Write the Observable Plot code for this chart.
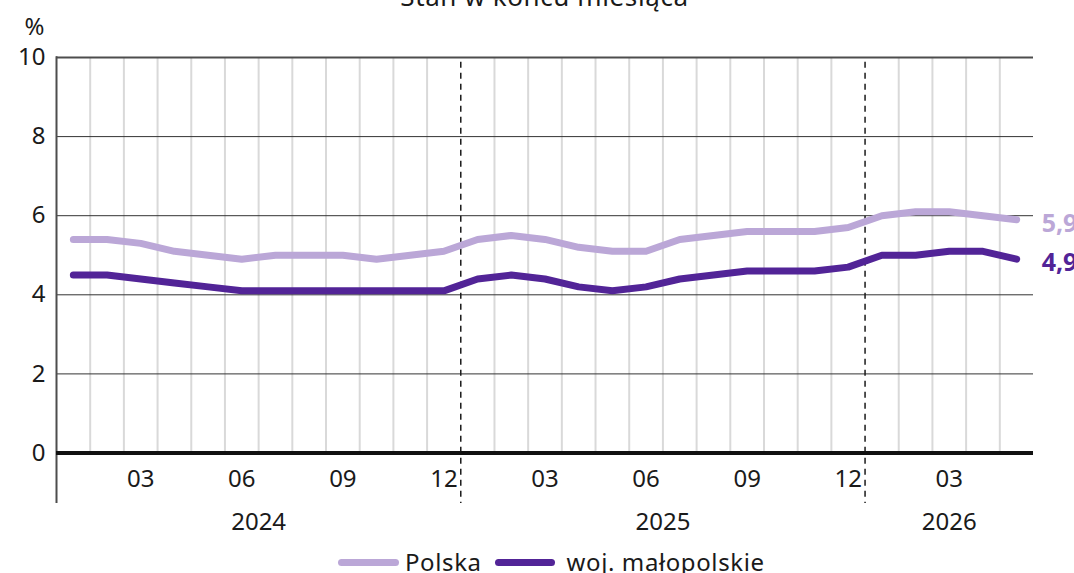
<!DOCTYPE html>
<html>
<head>
<meta charset="utf-8">
<script src="https://cdn.jsdelivr.net/npm/d3@7"></script>
<script src="https://cdn.jsdelivr.net/npm/@observablehq/plot@0.6"></script>
<style>
  html, body { margin: 0; padding: 0; background: #fff; overflow: hidden; }
  body { font-family: "Noto Sans", sans-serif; color: #1a1a1a; }
  #wrap { position: relative; width: 1074px; height: 573px; overflow: hidden; }
  #title { position: absolute; top: -19px; left: 56px; width: 977px; text-align: center; font-size: 26px; letter-spacing: 0.6px; line-height: 30px; color: #1a1a1a; z-index: 2; }
  #legend { position: absolute; top: 547px; left: 338px; display: flex; align-items: center; font-size: 24px; letter-spacing: 0.6px; line-height: 30px; color: #1a1a1a; white-space: nowrap; z-index: 2; }
  .sw { display: inline-block; width: 61px; height: 7px; border-radius: 4px; margin-right: 6px; }
  .item { display: flex; align-items: center; margin-right: 13px; }
  .item + .item .sw { width: 60px; margin-right: 12px; }
  svg { position: absolute; top: 0; left: 0; }
</style>
</head>
<body>
<div id="wrap">
  <div id="title">Stan w końcu miesiąca</div>
  <div id="chart"></div>
  <div id="legend"></div>
</div>
<script>
// ---- data ----
const months = [
  "2024-01","2024-02","2024-03","2024-04","2024-05","2024-06","2024-07","2024-08","2024-09","2024-10","2024-11","2024-12",
  "2025-01","2025-02","2025-03","2025-04","2025-05","2025-06","2025-07","2025-08","2025-09","2025-10","2025-11","2025-12",
  "2026-01","2026-02","2026-03","2026-04","2026-05"
];
const polska = [
  5.4, 5.4, 5.3, 5.1, 5.0, 4.9, 5.0, 5.0, 5.0, 4.9, 5.0, 5.1,
  5.4, 5.5, 5.4, 5.2, 5.1, 5.1, 5.4, 5.5, 5.6, 5.6, 5.6, 5.7,
  6.0, 6.1, 6.1, 6.0, 5.9
];
const malopolskie = [
  4.5, 4.5, 4.4, 4.3, 4.2, 4.1, 4.1, 4.1, 4.1, 4.1, 4.1, 4.1,
  4.4, 4.5, 4.4, 4.2, 4.1, 4.2, 4.4, 4.5, 4.6, 4.6, 4.6, 4.7,
  5.0, 5.0, 5.1, 5.1, 4.9
];
const seriesNames = ["Polska", "woj. małopolskie"];
const seriesColors = ["#bba7d7", "#522497"];
const monthTicks = ["03", "06", "09", "12"];
const yearLabels = ["2024", "2025", "2026"];
const yTicks = [0, 2, 4, 6, 8, 10];
const endLabels = ["5,9", "4,9"];

// ---- derived table ----
const n = months.length;
const rows = months.map((m, i) => ({ i, m, year: m.slice(0, 4), month: m.slice(5) }));
const lineData = [];
rows.forEach((r, k) => {
  lineData.push({ i: r.i, v: polska[k], s: seriesNames[0] });
  lineData.push({ i: r.i, v: malopolskie[k], s: seriesNames[1] });
});
const years = yearLabels.map(y => {
  const idx = rows.filter(r => r.year === y).map(r => r.i);
  return { y, x: d3.mean(idx) };
});
const ends = [
  { i: n - 1, v: polska[n - 1], label: endLabels[0], c: seriesColors[0] },
  { i: n - 1, v: malopolskie[n - 1], label: endLabels[1], c: seriesColors[1] }
];
const yBottom = -1.28;

const chart = Plot.plot({
  width: 1074,
  height: 573,
  marginLeft: 56,
  marginRight: 41,
  marginTop: 57,
  marginBottom: 120.5,
  style: { fontFamily: "Noto Sans, sans-serif", background: "transparent", overflow: "visible" },
  x: { domain: [-0.5, n - 0.5], axis: null },
  y: { domain: [0, 10], axis: null },
  color: { domain: seriesNames, range: seriesColors },
  marks: [
    // vertical month grid
    Plot.ruleX(rows.filter(r => r.i < n - 1 && r.month !== "12"), {
      x: r => r.i + 0.5, y1: 0, y2: 10, stroke: "#d9d9d9", strokeWidth: 2
    }),
    // horizontal grid
    Plot.ruleY(yTicks.filter(t => t > 0 && t < 10), { stroke: "#333", strokeWidth: 1 }),
    Plot.ruleY([10], { stroke: "#4d4d4d", strokeWidth: 2 }),
    // year separators
    Plot.ruleX(rows.filter(r => r.i < n - 1 && r.month === "12"), {
      x: r => r.i + 0.5, y1: 9.88, y2: yBottom, stroke: "#1a1a1a", strokeWidth: 1.5, strokeDasharray: "6,5"
    }),
    // left axis line
    Plot.ruleX([-0.5], { y1: 10.02, y2: yBottom, stroke: "#4d4d4d", strokeWidth: 2 }),
    // zero line
    Plot.ruleY([0], { stroke: "#111", strokeWidth: 4 }),
    // series
    Plot.line(lineData, {
      x: "i", y: "v", z: "s", stroke: "s", strokeWidth: 7,
      strokeLinecap: "round", strokeLinejoin: "round"
    }),
    // end labels
    Plot.text(ends, {
      x: "i", y: "v", text: "label", fill: d => d.c, textAnchor: "start",
      dx: 25, dy: 4, fontSize: 25, fontWeight: "bold"
    }),
    // y tick labels
    Plot.text(yTicks, {
      x: -0.5, y: d => d, text: d => String(d), textAnchor: "end",
      dx: -11, fontSize: 24, fill: "#1a1a1a"
    }),
    // % unit
    Plot.text(["%"], {
      frameAnchor: "top-left", lineAnchor: "middle", textAnchor: "middle",
      text: d => d, dx: -22, dy: -30, fontSize: 24, fill: "#1a1a1a"
    }),
    // month labels
    Plot.text(rows.filter(r => monthTicks.includes(r.month)), {
      x: "i", text: "month", frameAnchor: "bottom", lineAnchor: "middle",
      dy: 26, fontSize: 24, fill: "#1a1a1a"
    }),
    // year labels
    Plot.text(years, {
      x: "x", text: "y", frameAnchor: "bottom", lineAnchor: "middle",
      dy: 69, fontSize: 24, fill: "#1a1a1a"
    })
  ]
});
document.getElementById("chart").appendChild(chart);

// legend
const legend = document.getElementById("legend");
seriesNames.forEach((name, k) => {
  const item = document.createElement("div");
  item.className = "item";
  const sw = document.createElement("span");
  sw.className = "sw";
  sw.style.background = seriesColors[k];
  const lab = document.createElement("span");
  lab.textContent = name;
  item.appendChild(sw);
  item.appendChild(lab);
  legend.appendChild(item);
});
</script>
</body>
</html>
